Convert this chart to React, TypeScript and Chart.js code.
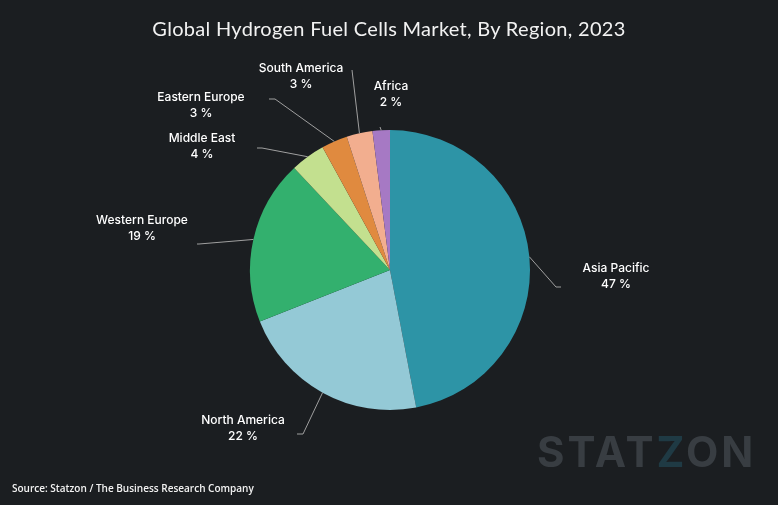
import React, { useEffect, useRef } from "react";
import { Chart, registerables } from "chart.js";

Chart.register(...registerables);

const regions = ["Asia Pacific", "North America", "Western Europe", "Middle East", "Eastern Europe", "South America", "Africa"];
const shares = [47, 22, 19, 4, 3, 3, 2];
const sliceColors = ["#2d94a6", "#94c9d6", "#33b06e", "#c3e08f", "#e08a3f", "#f2ae8f", "#a679c4"];

// label layout relative to pie centre: [elbowX, elbowY, endX, endY, textX, textY]
const labelLayout = [
  [166, 17, 171, 17, 226, -2],
  [-87, 164, -93, 164, -147, 150],
  [-191, -26, -193, -26, -248, -50],
  [-128, -122, -133, -122, -188, -132],
  [-115, -171, -121, -171, -189, -173],
  [-38, -200, -38, -200, -89, -202],
  [-10, -143, -10, -143, 1, -184],
];

const BG = "#1b1e21";

const labelPlugin = {
  id: "leaderLabels",
  afterDatasetsDraw(chart: any) {
    const ctx = chart.ctx;
    const meta = chart.getDatasetMeta(0);
    ctx.save();
    meta.data.forEach((arc: any, i: number) => {
      const { x, y, outerRadius, startAngle, endAngle } = arc.getProps(["x", "y", "outerRadius", "startAngle", "endAngle"], true);
      const mid = (startAngle + endAngle) / 2;
      const sx = x + Math.cos(mid) * outerRadius;
      const sy = y + Math.sin(mid) * outerRadius;
      const L = labelLayout[i];
      ctx.strokeStyle = "#a0a0a0";
      ctx.lineWidth = 1;
      ctx.beginPath();
      ctx.moveTo(sx, sy);
      ctx.lineTo(x + L[0], y + L[1]);
      ctx.lineTo(x + L[2], y + L[3]);
      ctx.stroke();
      ctx.fillStyle = "#ffffff";
      ctx.font = "500 12px Inter";
      ctx.textAlign = "center";
      ctx.textBaseline = "middle";
      ctx.fillText(regions[i], x + L[4], y + L[5]);
      ctx.fillText(shares[i] + " %", x + L[4], y + L[5] + 16);
    });
    ctx.restore();
  },
};

export default function App() {
  const ref = useRef<HTMLCanvasElement>(null);
  useEffect(() => {
    document.body.style.margin = "0";
    document.body.style.background = BG;
    const chart = new Chart(ref.current!, {
      type: "pie",
      data: {
        labels: regions,
        datasets: [
          {
            data: shares,
            backgroundColor: sliceColors,
            borderWidth: 0,
          },
        ],
      },
      options: {
        responsive: false,
        animation: false,
        layout: { padding: { left: 250, right: 248, top: 130, bottom: 95 } },
        plugins: {
          legend: { display: false },
          tooltip: { enabled: false },
          title: { display: false },
        },
      },
      plugins: [labelPlugin],
    });
    return () => chart.destroy();
  }, []);

  return (
    <div style={{ position: "relative", width: 778, height: 505, background: BG, overflow: "hidden" }}>
      <canvas ref={ref} width={778} height={505} style={{ position: "absolute", left: 0, top: 0 }} />
      <div
        style={{
          position: "absolute",
          left: 0,
          width: 778,
          top: 16,
          textAlign: "center",
          color: "#f2f2f2",
          font: "20px Lato",
          letterSpacing: 0.3,
        }}
      >
        Global Hydrogen Fuel Cells Market, By Region, 2023
      </div>
      <div
        style={{
          position: "absolute",
          left: 12,
          top: 481,
          color: "#f2f2f2",
          font: "600 10px 'Open Sans'",
        }}
      >
        Source: Statzon / The Business Research Company
      </div>
      <div
        style={{
          position: "absolute",
          left: 537,
          top: 426,
          color: "#383d42",
          font: "700 42px Inter",
          letterSpacing: 3,
          lineHeight: "52px",
        }}
      >
        STAT<span style={{ color: "#1f3a44" }}>Z</span>ON
      </div>
    </div>
  );
}
